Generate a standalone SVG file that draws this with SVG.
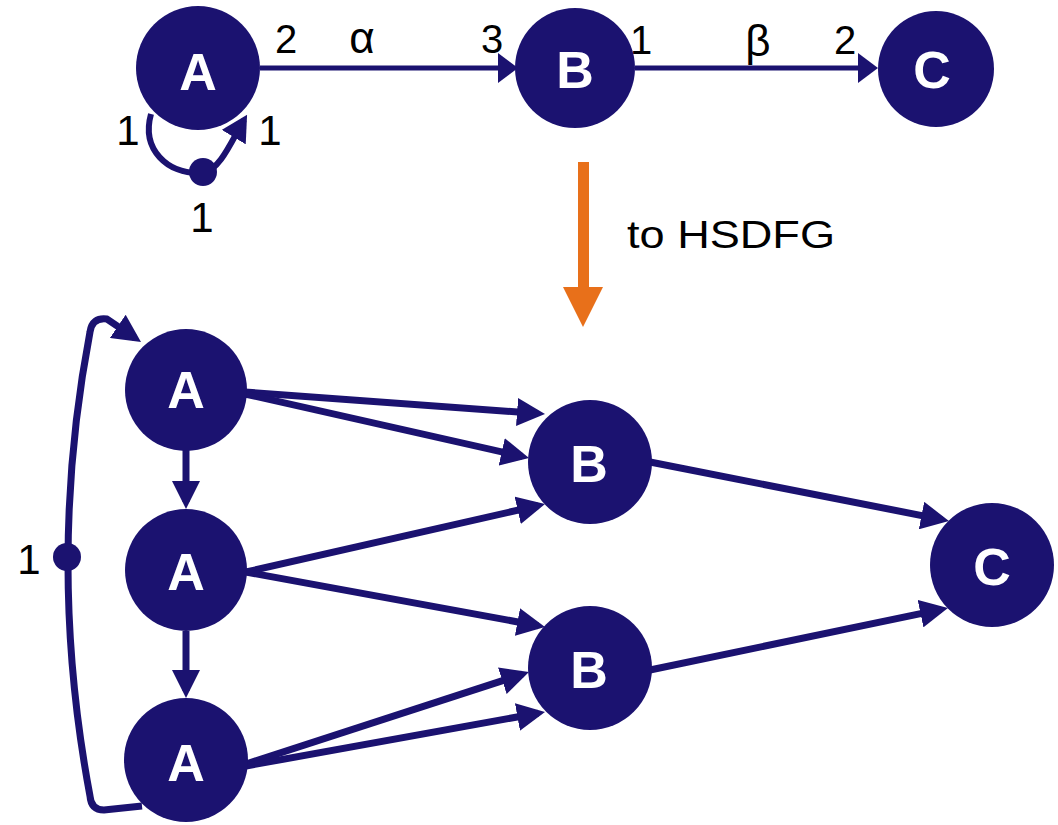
<svg xmlns="http://www.w3.org/2000/svg" width="1058" height="825" viewBox="0 0 1058 825">
  <style>
    .node { fill: #1B1270; }
    .nlabel { fill: #ffffff; font-family: "Liberation Sans", Arial, sans-serif; font-weight: bold; font-size: 52px; text-anchor: middle; }
    .edge { fill: none; stroke: #1B1270; stroke-width: 7; }
    .thin { fill: none; stroke: #1B1270; stroke-width: 5; }
    .loop { fill: none; stroke: #1B1270; stroke-width: 6; }
    .lbl { fill: #000000; font-family: "Liberation Sans", Arial, sans-serif; font-size: 40px; text-anchor: middle; }
    .token { fill: #1B1270; }
  </style>
  <defs>
    <marker id="headS" markerUnits="userSpaceOnUse" markerWidth="20" markerHeight="30" refX="16" refY="15" orient="auto">
      <path d="M0,0 L20,15 L0,30 z" fill="#1B1270"/>
    </marker>
    <marker id="headM" markerUnits="userSpaceOnUse" markerWidth="26" markerHeight="28" refX="20" refY="14" orient="auto">
      <path d="M0,0 L26,14 L0,28 z" fill="#1B1270"/>
    </marker>
    <marker id="headL" markerUnits="userSpaceOnUse" markerWidth="28" markerHeight="28" refX="21" refY="14" orient="auto">
      <path d="M0,0 L28,14 L0,28 z" fill="#1B1270"/>
    </marker>
  </defs>
  <rect width="1058" height="825" fill="#ffffff"/>

  <!-- connectors -->
  <g id="connectors">
    <!-- SDF graph -->
    <path class="thin" d="M260 68 L514 68" marker-end="url(#headS)"/>
    <path class="thin" d="M635 68 L874 68" marker-end="url(#headS)"/>
    <path class="loop" d="M151 114 C141 150 168 174 200 173"/>
    <path class="loop" d="M204 172 C220 170 232 140 244 120" marker-end="url(#headM)"/>
    <circle class="token" cx="203" cy="172" r="14"/>

    <!-- HSDF graph -->
    <path class="edge" d="M186 450 L186 502" marker-end="url(#headL)"/>
    <path class="edge" d="M186 631 L186 691" marker-end="url(#headL)"/>
    <path class="edge" d="M245 392 L538 413.5" marker-end="url(#headL)"/>
    <path class="edge" d="M245 394 L522.2 456.5" marker-end="url(#headL)"/>
    <path class="edge" d="M246 572 L538.2 505.6" marker-end="url(#headL)"/>
    <path class="edge" d="M246 572 L538.1 625.7" marker-end="url(#headL)"/>
    <path class="edge" d="M246 764 L522.3 674.2" marker-end="url(#headL)"/>
    <path class="edge" d="M246 766 L538.1 713.2" marker-end="url(#headL)"/>
    <path class="edge" d="M650 462 L942.1 519.6" marker-end="url(#headL)"/>
    <path class="edge" d="M650 670 L941.1 609.4" marker-end="url(#headL)"/>
    <path class="edge" d="M142 806 L104 810 Q91 810 90 796 Q46 562 90 332 Q92 317 107 319 L135.2 338.1" marker-end="url(#headL)"/>
    <circle class="token" cx="67" cy="557" r="14"/>
  </g>

  <!-- edge labels -->
  <g id="labels">
    <text class="lbl" x="286" y="53">2</text>
    <text class="lbl" x="362" y="53" style="font-size:44px">α</text>
    <text class="lbl" x="492" y="53">3</text>
    <text class="lbl" x="641" y="54">1</text>
    <text class="lbl" x="758" y="56" style="font-size:44px">β</text>
    <text class="lbl" x="845" y="54">2</text>
    <text class="lbl" x="128" y="145" style="font-size:42px">1</text>
    <text class="lbl" x="270" y="145" style="font-size:42px">1</text>
    <text class="lbl" x="202" y="232" style="font-size:42px">1</text>
    <text class="lbl" x="29" y="574" style="font-size:42px">1</text>
  </g>

  <!-- transformation arrow -->
  <g id="transform">
    <rect x="578" y="162" width="11" height="126" fill="#E8701A"/>
    <path d="M563 287 L603 287 L583 327 z" fill="#E8701A"/>
    <text x="627" y="248" font-family="Liberation Sans, Arial, sans-serif" font-size="39" textLength="208" lengthAdjust="spacingAndGlyphs" fill="#000000">to HSDFG</text>
  </g>

  <!-- SDF actors -->
  <g id="sdfA"><circle class="node" cx="198" cy="68" r="62"/><text class="nlabel" x="198" y="90">A</text></g>
  <g id="sdfB"><circle class="node" cx="575" cy="68" r="60"/><text class="nlabel" x="575" y="88">B</text></g>
  <g id="sdfC"><circle class="node" cx="936" cy="69" r="58"/><text class="nlabel" x="932" y="88">C</text></g>

  <!-- HSDF actors -->
  <g id="hA1"><circle class="node" cx="186" cy="390" r="61"/><text class="nlabel" x="186" y="408">A</text></g>
  <g id="hA2"><circle class="node" cx="186" cy="570" r="61"/><text class="nlabel" x="186" y="590">A</text></g>
  <g id="hA3"><circle class="node" cx="186" cy="760" r="62"/><text class="nlabel" x="186" y="781">A</text></g>
  <g id="hB1"><circle class="node" cx="590" cy="462" r="62"/><text class="nlabel" x="589" y="482">B</text></g>
  <g id="hB2"><circle class="node" cx="590" cy="668" r="62"/><text class="nlabel" x="589" y="688">B</text></g>
  <g id="hC"><circle class="node" cx="992" cy="565" r="62"/><text class="nlabel" x="992" y="585">C</text></g>
</svg>
